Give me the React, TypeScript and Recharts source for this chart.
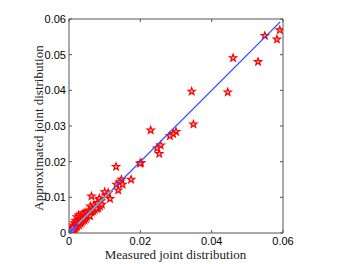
import React from "react";
import { ScatterChart, Scatter, XAxis, YAxis } from "recharts";

const measured: number[] = [
  0.0591, 0.0583, 0.0549, 0.053, 0.046, 0.0445, 0.0344, 0.0349, 0.03, 0.0292, 0.0283,
  0.0229, 0.0257, 0.0247, 0.0253, 0.0202, 0.0199, 0.0132, 0.0174, 0.0147, 0.0143,
  0.015, 0.0138, 0.0133, 0.0115, 0.011, 0.0104, 0.0063, 0.0085, 0.0082,
  0.0002, 0.0004, 0.0005, 0.0007, 0.0008, 0.001, 0.0011, 0.0012, 0.0014, 0.0015,
  0.0016, 0.0018, 0.0019, 0.002, 0.0022, 0.0023, 0.0025, 0.0027, 0.0028, 0.003,
  0.0032, 0.0033, 0.0035, 0.0037, 0.0038, 0.004, 0.0042, 0.0043, 0.0045, 0.0047,
  0.0048, 0.005, 0.0052, 0.0055, 0.0057, 0.0059, 0.006, 0.0063, 0.0065, 0.0068,
  0.007, 0.0072, 0.0075, 0.0078, 0.008, 0.0085, 0.0087, 0.009, 0.0092, 0.01,
];
const approximated: number[] = [
  0.0569, 0.0543, 0.0553, 0.048, 0.0491, 0.0395, 0.0397, 0.0305, 0.0284, 0.0278, 0.0272,
  0.0288, 0.0246, 0.0238, 0.0222, 0.0197, 0.0195, 0.0186, 0.015, 0.015, 0.0143,
  0.0136, 0.012, 0.0136, 0.0096, 0.0113, 0.0106, 0.0103, 0.0094, 0.007,
  0.0003, 0.0008, 0.0002, 0.0012, 0.0005, 0.0016, 0.0007, 0.0022, 0.001, 0.0028,
  0.0013, 0.0035, 0.0015, 0.0025, 0.0045, 0.0018, 0.003, 0.005, 0.0022, 0.0038,
  0.0027, 0.0046, 0.003, 0.0052, 0.0034, 0.0041, 0.0056, 0.0036, 0.0048, 0.004,
  0.0058, 0.0045, 0.0055, 0.005, 0.0062, 0.0048, 0.0075, 0.0058, 0.007, 0.0062,
  0.0078, 0.0065, 0.0072, 0.0068, 0.0085, 0.0097, 0.0075, 0.009, 0.008, 0.0115,
];
const fitX: number[] = [0, 0.0592];
const fitY: number[] = [0, 0.0592];
const shortFitX: number[] = [0.0025, 0.012];
const shortFitY: number[] = [0.0025, 0.012];
const originX: number[] = [0.0002, 0.0005, 0.0009, 0.0012];
const originY: number[] = [0.0003, 0.0006, 0.0008, 0.0013];
const xTicks: number[] = [0, 0.02, 0.04, 0.06];
const yTicks: number[] = [0, 0.01, 0.02, 0.03, 0.04, 0.05, 0.06];
const xLabel = "Measured joint distribution";
const yLabel = "Approximated joint distribution";

const points = measured.map((x, i) => ({ x, y: approximated[i] }));
const fitLine = fitX.map((x, i) => ({ x, y: fitY[i] }));
const shortLine = shortFitX.map((x, i) => ({ x, y: shortFitY[i] }));
const originPts = originX.map((x, i) => ({ x, y: originY[i] }));

const AXIS = "#555";
const fmt = (v: number) => (v === 0 ? "0" : v.toFixed(2));
const tickFont = { fontFamily: "Liberation Sans, Arial, sans-serif", fontSize: 11, fill: "#000" };

const Star = (props: any) => {
  const { cx, cy } = props;
  if (cx == null || cy == null) return null;
  const R = 3.8;
  const r = 1.55;
  let d = "";
  for (let k = 0; k < 10; k++) {
    const rad = k % 2 === 0 ? R : r;
    const a = -Math.PI / 2 + (k * Math.PI) / 5;
    d += (k === 0 ? "M" : "L") + (cx + rad * Math.cos(a)).toFixed(2) + "," + (cy + rad * Math.sin(a)).toFixed(2);
  }
  d += "Z";
  return <path d={d} fill="#ffa8a8" stroke="#ff0000" strokeWidth={1.2} strokeLinejoin="miter" />;
};

const Diamond = (props: any) => {
  const { cx, cy } = props;
  if (cx == null || cy == null) return null;
  return <path d={`M${cx},${cy - 2.5}L${cx + 2.5},${cy}L${cx},${cy + 2.5}L${cx - 2.5},${cy}Z`} fill="#b070e0" stroke="#8040c0" strokeWidth={0.8} />;
};

// plot box: left 69, right 283, top 19, bottom 233
const BottomTick = (props: any) => {
  const { x, payload } = props;
  const y = 233;
  return (
    <g>
      <line x1={x} y1={y} x2={x} y2={y - 3} stroke={AXIS} />
      <text x={x} y={y + 12} textAnchor="middle" {...tickFont}>{fmt(payload.value)}</text>
    </g>
  );
};
const TopTick = (props: any) => {
  const { x } = props;
  const y = 19;
  return <line x1={x} y1={y} x2={x} y2={y + 3} stroke={AXIS} />;
};
const LeftTick = (props: any) => {
  const { y, payload } = props;
  const x = 69;
  return (
    <g>
      <line x1={x} y1={y} x2={x + 3} y2={y} stroke={AXIS} />
      <text x={x - 3} y={y + 4} textAnchor="end" {...tickFont}>{fmt(payload.value)}</text>
    </g>
  );
};
const RightTick = (props: any) => {
  const { y } = props;
  const x = 283;
  return <line x1={x} y1={y} x2={x - 3} y2={y} stroke={AXIS} />;
};

const labelFont = { fontFamily: "Liberation Serif, Times New Roman, serif", fontSize: 13, fill: "#222" };

export default function App() {
  return (
    <div style={{ position: "absolute", left: 0, top: 0, width: 353, height: 264, background: "#fff" }}>
      <ScatterChart width={353} height={264} margin={{ top: 18, right: 69, bottom: 30, left: 68 }}>
        <XAxis
          xAxisId="b"
          type="number"
          dataKey="x"
          domain={[0, 0.06]}
          ticks={xTicks}
          height={1}
          tickSize={0}
          tickMargin={0}
          tickLine={false}
          axisLine={{ stroke: AXIS }}
          tick={<BottomTick />}
          allowDataOverflow
        />
        <XAxis
          xAxisId="t"
          orientation="top"
          type="number"
          dataKey="x"
          domain={[0, 0.06]}
          ticks={xTicks}
          height={1}
          tickSize={0}
          tickMargin={0}
          tickLine={false}
          axisLine={{ stroke: AXIS }}
          tick={<TopTick />}
          allowDataOverflow
        />
        <YAxis
          yAxisId="l"
          type="number"
          dataKey="y"
          domain={[0, 0.06]}
          ticks={yTicks}
          width={1}
          tickSize={0}
          tickMargin={0}
          tickLine={false}
          axisLine={{ stroke: AXIS }}
          tick={<LeftTick />}
          allowDataOverflow
        />
        <YAxis
          yAxisId="r"
          orientation="right"
          type="number"
          dataKey="y"
          domain={[0, 0.06]}
          ticks={yTicks}
          width={1}
          tickSize={0}
          tickMargin={0}
          tickLine={false}
          axisLine={{ stroke: AXIS }}
          tick={<RightTick />}
          allowDataOverflow
        />
        <Scatter xAxisId="b" yAxisId="l" data={points} shape={<Star />} isAnimationActive={false} />
        <Scatter xAxisId="b" yAxisId="l" data={originPts} shape={<Diamond />} isAnimationActive={false} />
        <Scatter
          xAxisId="b"
          yAxisId="l"
          data={fitLine}
          line={{ stroke: "#2f4bff", strokeWidth: 1.3 }}
          shape={() => null}
          isAnimationActive={false}
        />
        <Scatter
          xAxisId="b"
          yAxisId="l"
          data={shortLine}
          line={{ stroke: "#5ec8e8", strokeWidth: 1.3 }}
          shape={() => null}
          isAnimationActive={false}
        />
        <text x={175.5} y={259} textAnchor="middle" {...labelFont}>{xLabel}</text>
        <text x={43} y={128} textAnchor="middle" transform="rotate(-90 43 128)" {...labelFont}>{yLabel}</text>
      </ScatterChart>
    </div>
  );
}
